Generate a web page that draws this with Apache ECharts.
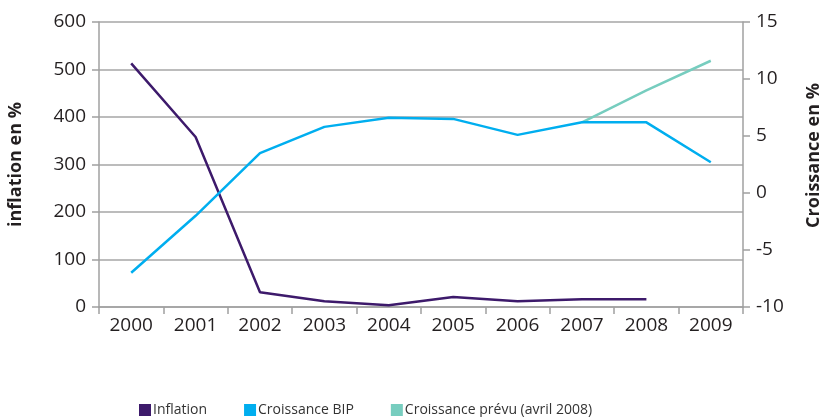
<!DOCTYPE html>
<html>
<head>
<meta charset="utf-8">
<script src="https://cdn.jsdelivr.net/npm/echarts@6/dist/echarts.min.js"></script>
<style>html,body{margin:0;padding:0;background:#fff}#c{width:823px;height:417px}</style>
</head>
<body>
<div id="c"></div>
<script>
const years = ['2000','2001','2002','2003','2004','2005','2006','2007','2008','2009'];
const inflation = [513, 358, 31, 12, 3.5, 21, 12, 16.5, 16.5, null];
const croissanceBIP = [-7.0, -2.0, 3.5, 5.8, 6.6, 6.5, 5.1, 6.2, 6.2, 2.7];
const croissancePrevu = [null, null, null, null, null, null, null, 6.2, 9.0, 11.6];
const leftTicks = [0, 600, 100];
const rightTicks = [-10, 15, 5];

const FONT = '"Open Sans", sans-serif';
const chart = echarts.init(document.getElementById('c'), null, {renderer: 'canvas'});
chart.setOption({
  animation: false,
  textStyle: {fontFamily: FONT},
  grid: {left: 99, right: 80, top: 22, bottom: 110, containLabel: false, outerBoundsMode: 'none'},
  legend: {
    bottom: -5, left: 134, icon: 'rect', itemWidth: 12, itemHeight: 12, itemGap: 37,
    textStyle: {fontFamily: FONT, fontSize: 14, color: '#333', padding: [0, 0, 0, -3]},
    data: ['Inflation', 'Croissance BIP', 'Croissance prévu (avril 2008)']
  },
  xAxis: {
    type: 'category', data: years, boundaryGap: true,
    axisLine: {lineStyle: {color: '#a0a0a0', width: 1.5}},
    axisTick: {show: true, length: 7, lineStyle: {color: '#a0a0a0', width: 1.5}},
    axisLabel: {fontSize: 19, color: '#231f20', margin: 9, fontFamily: FONT}
  },
  yAxis: [{
    type: 'value', min: leftTicks[0], max: leftTicks[1], interval: leftTicks[2],
    name: 'inflation en %', nameLocation: 'middle', nameGap: 74, nameRotate: 90,
    nameTextStyle: {fontSize: 18, fontWeight: 'bold', color: '#231f20', fontFamily: FONT},
    axisLine: {show: true, lineStyle: {color: '#a0a0a0', width: 1.5}},
    axisTick: {show: true, length: 7, lineStyle: {color: '#a0a0a0', width: 1.5}},
    axisLabel: {fontSize: 19, color: '#231f20', margin: 13, fontFamily: FONT},
    splitLine: {show: true, lineStyle: {color: '#a6a6a6', width: 1.5}}
  }, {
    type: 'value', position: 'right', min: rightTicks[0], max: rightTicks[1], interval: rightTicks[2],
    name: 'Croissance en %', nameLocation: 'middle', nameGap: 62, nameRotate: 90,
    nameTextStyle: {fontSize: 18, fontWeight: 'bold', color: '#231f20', fontFamily: FONT, padding: [0, 0, 0, 18]},
    axisLine: {show: true, lineStyle: {color: '#a0a0a0', width: 1.5}},
    axisTick: {show: true, length: 7, lineStyle: {color: '#a0a0a0', width: 1.5}},
    axisLabel: {fontSize: 19, color: '#231f20', margin: 13, fontFamily: FONT},
    splitLine: {show: false}
  }],
  series: [{
    name: 'Inflation', type: 'line', yAxisIndex: 0, data: inflation,
    symbol: 'none', lineStyle: {color: '#3d1a6b', width: 2.5}, itemStyle: {color: '#3d1a6b'}
  }, {
    name: 'Croissance BIP', type: 'line', yAxisIndex: 1, data: croissanceBIP,
    symbol: 'none', lineStyle: {color: '#00aeef', width: 2.5}, itemStyle: {color: '#00aeef'}
  }, {
    name: 'Croissance prévu (avril 2008)', type: 'line', yAxisIndex: 1, data: croissancePrevu,
    symbol: 'none', lineStyle: {color: '#77cdbf', width: 2.5}, itemStyle: {color: '#77cdbf'}, z: 1
  }]
});
</script>
</body>
</html>
